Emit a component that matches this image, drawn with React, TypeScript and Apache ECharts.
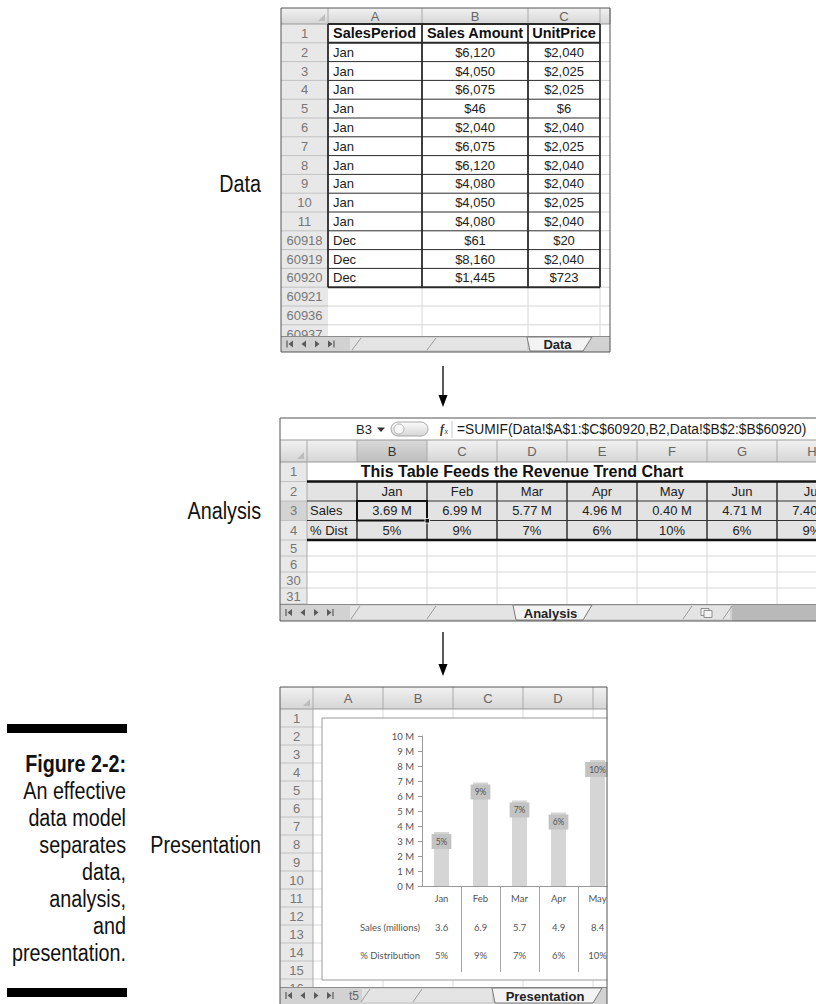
import React, { useEffect, useRef } from 'react';
import * as echarts from 'echarts';

// ---------------- Data sheet ----------------
const dataColumns = ['A', 'B', 'C'];
const dataHeaders = ['SalesPeriod', 'Sales Amount', 'UnitPrice'];
const dataRowNumbers = ['2', '3', '4', '5', '6', '7', '8', '9', '10', '11', '60918', '60919', '60920'];
const dataPeriods = ['Jan', 'Jan', 'Jan', 'Jan', 'Jan', 'Jan', 'Jan', 'Jan', 'Jan', 'Jan', 'Dec', 'Dec', 'Dec'];
const dataAmounts = ['$6,120', '$4,050', '$6,075', '$46', '$2,040', '$6,075', '$6,120', '$4,080', '$4,050', '$4,080', '$61', '$8,160', '$1,445'];
const dataUnitPrices = ['$2,040', '$2,025', '$2,025', '$6', '$2,040', '$2,025', '$2,040', '$2,040', '$2,025', '$2,040', '$20', '$2,040', '$723'];
const dataEmptyRowNumbers = ['60921', '60936', '60937'];

// ---------------- Analysis sheet ----------------
const analysisColumns = ['B', 'C', 'D', 'E', 'F', 'G', 'H'];
const analysisMonths = ['Jan', 'Feb', 'Mar', 'Apr', 'May', 'Jun', 'Jul'];
const analysisSales = ['3.69 M', '6.99 M', '5.77 M', '4.96 M', '0.40 M', '4.71 M', '7.40 M'];
const analysisDist = ['5%', '9%', '7%', '6%', '10%', '6%', '9%'];
const analysisRowNumbers = ['1', '2', '3', '4', '5', '6', '30', '31'];
const analysisTitle = 'This Table Feeds the Revenue Trend Chart';
const analysisFormula = '=SUMIF(Data!$A$1:$C$60920,B2,Data!$B$2:$B$60920)';

// ---------------- Presentation chart ----------------
const presColumns = ['A', 'B', 'C', 'D'];
const presRowNumbers = ['1', '2', '3', '4', '5', '6', '7', '8', '9', '10', '11', '12', '13', '14', '15', '16'];
const presMonths = ['Jan', 'Feb', 'Mar', 'Apr', 'May'];
const presSales = [3.6, 6.9, 5.7, 4.9, 8.4];
const presDist = [5, 9, 7, 6, 10];
const presRowLabels = ['Sales (millions)', '% Distribution'];

// ---------------- Caption ----------------
const captionLines = ['Figure 2-2:', 'An effective', 'data model', 'separates', 'data,', 'analysis,', 'and', 'presentation.'];
const stageLabels = ['Data', 'Analysis', 'Presentation'];

const SS = '"Liberation Sans", Arial, sans-serif';
const LATO = 'Lato, "Noto Sans", sans-serif';
const F = (size: number, weight = '') => `${weight ? weight + ' ' : ''}${size}px ${SS}`;

function buildOption() {
  const els: any[] = [];
  const rect = (x: number, y: number, w: number, h: number, style: any, z = 1, r?: number) =>
    els.push({ type: 'rect', shape: { x, y, width: w, height: h, r: r || 0 }, style, z, silent: true });
  const line = (x1: number, y1: number, x2: number, y2: number, stroke: string, lw = 1, z = 3) =>
    els.push({ type: 'line', shape: { x1, y1, x2, y2 }, style: { stroke, lineWidth: lw }, z, silent: true });
  const text = (t: string, x: number, y: number, font: string, fill = '#222', align = 'left', z = 4, scaleX = 1) =>
    els.push({ type: 'text', x, y, scaleX, style: { text: t, font, fill, textAlign: align, textVerticalAlign: 'middle' }, z, silent: true });
  const poly = (points: number[][], style: any, z = 3) =>
    els.push({ type: 'polygon', shape: { points }, style, z, silent: true });
  const headGrad = (a = '#f2f2f2', b = '#d5d5d5') =>
    new echarts.graphic.LinearGradient(0, 0, 0, 1, [{ offset: 0, color: a }, { offset: 1, color: b }]);

  function tabBar(x0: number, x1: number, y0: number, y1: number, o: any) {
    const yc = (y0 + y1) / 2;
    rect(x0, y0, x1 - x0, y1 - y0, { fill: '#d2d2d2' }, 20);
    line(x0, y0 + 0.5, x1, y0 + 0.5, '#8c8c8c', 1, 21);
    const ix = x0 + 6;
    const nav = { fill: '#5a5a5a' };
    line(ix, yc - 3.5, ix, yc + 3.5, '#5a5a5a', 1.2, 22);
    poly([[ix + 6, yc - 3.5], [ix + 6, yc + 3.5], [ix + 1.5, yc]], nav, 22);
    poly([[ix + 19, yc - 3.5], [ix + 19, yc + 3.5], [ix + 14.5, yc]], nav, 22);
    poly([[ix + 28, yc - 3.5], [ix + 28, yc + 3.5], [ix + 32.5, yc]], nav, 22);
    poly([[ix + 41, yc - 3.5], [ix + 41, yc + 3.5], [ix + 45.5, yc]], nav, 22);
    line(ix + 47, yc - 3.5, ix + 47, yc + 3.5, '#5a5a5a', 1.2, 22);
    rect(o.bandX0, y0 + 2, o.bandX1 - o.bandX0, y1 - y0 - 4, { fill: '#e4e4e4' }, 21);
    o.seps.forEach((s: number) => line(s - 5, y1 - 2, s + 4, y0 + 2, '#9a9a9a', 1, 22));
    if (o.darkFrom) rect(o.darkFrom, y0 + 1, x1 - o.darkFrom, y1 - y0 - 1, { fill: '#b9b9b9' }, 21);
    if (o.icon) {
      rect(o.icon, yc - 4, 8, 7, { fill: '#f4f4f4', stroke: '#777', lineWidth: 0.8 }, 22);
      rect(o.icon + 3, yc - 2, 8, 7, { fill: '#f4f4f4', stroke: '#777', lineWidth: 0.8 }, 22);
    }
    poly([[o.ax0, y0 + 1], [o.ax1 + 4, y0 + 1], [o.ax1 - 5, y1 - 1], [o.ax0 + 3, y1 - 1]],
      { fill: '#f3f3f3', stroke: '#7a7a7a', lineWidth: 1 }, 23);
    text(o.active, (o.ax0 + o.ax1) / 2, yc + 0.5, F(13, 'bold'), '#222', 'center', 24);
    if (o.prefix) text(o.prefix, o.prefixX, yc, F(12), '#666', 'left', 22);
  }

  // ================= DATA SHEET =================
  const D = { x0: 281, x1: 610, top: 8, hb: 24, rowH: 18.8, cols: [328, 422, 528, 600], tabTop: 336, bottom: 352 };
  rect(D.x0, D.top, D.x1 - D.x0, D.bottom - D.top, { fill: '#fff' }, 1);
  rect(D.x0, D.top, D.x1 - D.x0, D.hb - D.top, { fill: headGrad() }, 2);
  rect(D.x0, D.hb, D.cols[0] - D.x0, D.tabTop - D.hb, { fill: '#e8e8e8' }, 2);
  poly([[D.cols[0] - 3, D.hb - 3], [D.cols[0] - 3, D.hb - 10], [D.cols[0] - 10, D.hb - 3]], { fill: '#bdbdbd' }, 3);
  dataColumns.forEach((c, i) => text(c, (D.cols[i] + D.cols[i + 1]) / 2, (D.top + D.hb) / 2 + 0.5, F(13), '#666', 'center'));
  [...D.cols, D.x1].forEach((x) => line(x, D.top, x, D.hb, '#aaa', 1, 3));
  line(D.x0, D.hb, D.x1, D.hb, '#999', 1, 3);
  const dataRowLabels = ['1', ...dataRowNumbers, ...dataEmptyRowNumbers];
  dataRowLabels.forEach((lab, i) => {
    const y = D.hb + i * D.rowH;
    text(lab, (D.x0 + D.cols[0]) / 2, y + D.rowH / 2, F(13), '#777', 'center', 4);
    line(D.x0, y + D.rowH, D.cols[0], y + D.rowH, '#c2c2c2', 1, 3);
    line(i <= 13 ? D.cols[3] : D.cols[0], y + D.rowH, D.x1, y + D.rowH, '#d6d6d6', 1, 2);
  });
  const blockBottom = D.hb + 14 * D.rowH;
  [D.cols[1], D.cols[2], D.cols[3]].forEach((x) => line(x, blockBottom, x, D.tabTop, '#d6d6d6', 1, 2));
  for (let i = 0; i <= 14; i++) {
    const y = D.hb + i * D.rowH;
    line(D.cols[0], y, D.cols[3], y, '#2a2a2a', i === 0 || i === 1 || i === 14 ? 2 : 1, 3);
  }
  D.cols.forEach((x) => line(x, D.hb, x, blockBottom, '#2a2a2a', 1.8, 3));
  const dCx = [D.cols[0] + 5, (D.cols[1] + D.cols[2]) / 2, (D.cols[2] + D.cols[3]) / 2];
  text(dataHeaders[0], dCx[0], D.hb + D.rowH / 2, F(14.5, 'bold'), '#111', 'left');
  text(dataHeaders[1], dCx[1], D.hb + D.rowH / 2, F(14.5, 'bold'), '#111', 'center');
  text(dataHeaders[2], dCx[2], D.hb + D.rowH / 2, F(14.5, 'bold'), '#111', 'center');
  dataPeriods.forEach((p, j) => {
    const yc = D.hb + (j + 1) * D.rowH + D.rowH / 2;
    text(p, dCx[0], yc, F(13), '#222', 'left');
    text(dataAmounts[j], dCx[1], yc, F(13), '#222', 'center');
    text(dataUnitPrices[j], dCx[2], yc, F(13), '#222', 'center');
  });
  tabBar(D.x0, D.x1, D.tabTop, D.bottom, { active: 'Data', ax0: 527, ax1: 588, bandX0: 350, bandX1: 527, seps: [357, 432] });
  rect(D.x0, D.top, D.x1 - D.x0, D.bottom - D.top, { fill: 'none', stroke: '#555', lineWidth: 1 }, 30);

  // ================= ANALYSIS SHEET =================
  const A = { x0: 280, x1: 816, top: 418, fb: 440, hb: 462, rn: 307, colA: 357, colW: 70,
    rows: [462, 481.5, 501, 520.5, 540, 556, 572, 588, 604], tabTop: 604, bottom: 621 };
  rect(A.x0, A.top, A.x1 - A.x0, A.bottom - A.top, { fill: '#fff' }, 1);
  line(A.x0, A.fb, A.x1, A.fb, '#999', 1, 3);
  text('B3', 356, 429.5, F(13), '#222', 'left');
  poly([[377, 427.5], [385, 427.5], [381, 432]], { fill: '#333' }, 4);
  rect(391, 422, 37, 14, { fill: headGrad('#fbfbfb', '#d6d6d6'), stroke: '#a8a8a8', lineWidth: 1 }, 3, 7);
  els.push({ type: 'circle', shape: { cx: 399, cy: 429, r: 5 }, style: { fill: '#f7f7f7', stroke: '#b5b5b5', lineWidth: 1 }, z: 4, silent: true });
  text('f', 440, 429, 'italic bold 12px "Liberation Serif", serif', '#333', 'left');
  text('x', 444.5, 431.5, 'italic 8px "Liberation Serif", serif', '#333', 'left');
  line(452, 421, 452, 438, '#c8c8c8', 1, 3);
  text(analysisFormula, 457, 429.5, F(13.8), '#1a1a1a', 'left');
  rect(A.x0, A.fb, A.x1 - A.x0, A.hb - A.fb, { fill: headGrad() }, 2);
  rect(A.colA, A.fb, A.colW, A.hb - A.fb, { fill: headGrad('#dadada', '#bdbdbd') }, 2);
  poly([[A.rn - 3, A.hb - 3], [A.rn - 3, A.hb - 10], [A.rn - 10, A.hb - 3]], { fill: '#bdbdbd' }, 3);
  line(A.rn, A.fb, A.rn, A.hb, '#aaa', 1, 3);
  analysisColumns.forEach((c, k) => {
    const x = A.colA + k * A.colW;
    line(x, A.fb, x, A.hb, '#aaa', 1, 3);
    text(c, x + A.colW / 2, (A.fb + A.hb) / 2 + 0.5, F(13), k === 0 ? '#333' : '#666', 'center');
  });
  line(A.x0, A.hb, A.x1, A.hb, '#999', 1, 3);
  rect(A.x0, A.hb, A.rn - A.x0, A.tabTop - A.hb, { fill: '#e8e8e8' }, 2);
  rect(A.x0, A.rows[2], A.rn - A.x0, A.rows[3] - A.rows[2], { fill: '#d3d3d3' }, 2);
  analysisRowNumbers.forEach((lab, i) => {
    text(lab, (A.x0 + A.rn) / 2, (A.rows[i] + A.rows[i + 1]) / 2, F(13), '#777', 'center', 4);
    line(A.x0, A.rows[i + 1], A.rn, A.rows[i + 1], '#c2c2c2', 1, 3);
  });
  line(A.rn, A.hb, A.rn, A.tabTop, '#aaa', 1, 3);
  text(analysisTitle, 522, (A.rows[0] + A.rows[1]) / 2, F(16, 'bold'), '#111', 'center');
  rect(A.rn, A.rows[1], A.x1 - A.rn, A.rows[4] - A.rows[1], { fill: '#e3e3e3' }, 2);
  [5, 6, 7].forEach((i) => line(A.rn, A.rows[i], A.x1, A.rows[i], '#d6d6d6', 1, 2));
  analysisColumns.forEach((_, k) => {
    const x = A.colA + k * A.colW;
    line(x, A.rows[4], x, A.tabTop, '#d6d6d6', 1, 2);
    line(x, A.rows[1], x, A.rows[4], '#333', 1.5, 3);
  });
  line(A.rn, A.rows[2], A.x1, A.rows[2], '#333', 1, 3);
  line(A.rn, A.rows[3], A.x1, A.rows[3], '#333', 1, 3);
  line(A.rn, A.rows[1], A.x1, A.rows[1], '#111', 2.5, 3);
  line(A.rn, A.rows[4], A.x1, A.rows[4], '#111', 2.5, 3);
  const rc = (i: number) => (A.rows[i] + A.rows[i + 1]) / 2;
  text('Sales', A.rn + 3, rc(2), F(13), '#222', 'left');
  text('% Dist', A.rn + 3, rc(3), F(13), '#222', 'left');
  analysisMonths.forEach((m, k) => {
    const cx = A.colA + k * A.colW + A.colW / 2;
    text(m, cx, rc(1), F(13), '#222', 'center');
    text(analysisSales[k], cx, rc(2), F(13), '#222', 'center');
    text(analysisDist[k], cx, rc(3), F(13), '#222', 'center');
  });
  rect(A.colA, A.rows[2], A.colW, A.rows[3] - A.rows[2], { fill: 'none', stroke: '#111', lineWidth: 2 }, 6);
  rect(A.colA + A.colW - 2, A.rows[3] - 2, 4.5, 4.5, { fill: '#111', stroke: '#fff', lineWidth: 0.8 }, 7);
  tabBar(A.x0, A.x1, A.tabTop, A.bottom, { active: 'Analysis', ax0: 513, ax1: 588, bandX0: 350, bandX1: 730,
    seps: [356, 432, 688, 728], icon: 701, darkFrom: 732 });
  rect(A.x0, A.top, A.x1 - A.x0 + 2, A.bottom - A.top, { fill: 'none', stroke: '#555', lineWidth: 1 }, 30);

  // ================= PRESENTATION SHEET =================
  const P = { x0: 280, x1: 607, top: 687, hb: 709, rn: 313, cols: [313, 383, 453, 523, 593], rowH: 18, tabTop: 987, bottom: 1004 };
  rect(P.x0, P.top, P.x1 - P.x0, P.bottom - P.top, { fill: '#fff' }, 1);
  rect(P.x0, P.top, P.x1 - P.x0, P.hb - P.top, { fill: headGrad() }, 2);
  poly([[P.rn - 3, P.hb - 3], [P.rn - 3, P.hb - 10], [P.rn - 10, P.hb - 3]], { fill: '#bdbdbd' }, 3);
  P.cols.forEach((x) => line(x, P.top, x, P.hb, '#aaa', 1, 3));
  presColumns.forEach((c, i) => text(c, (P.cols[i] + P.cols[i + 1]) / 2, (P.top + P.hb) / 2 + 0.5, F(13), '#666', 'center'));
  line(P.x0, P.hb, P.x1, P.hb, '#999', 1, 3);
  rect(P.x0, P.hb, P.rn - P.x0, P.tabTop - P.hb, { fill: '#e8e8e8' }, 2);
  presRowNumbers.forEach((lab, i) => {
    const y = P.hb + i * P.rowH;
    text(lab, (P.x0 + P.rn) / 2, y + P.rowH / 2, F(13), '#777', 'center', 4);
    line(P.x0, y + P.rowH, P.rn, y + P.rowH, '#c2c2c2', 1, 3);
    line(P.rn, y + P.rowH, P.x1, y + P.rowH, '#dadada', 1, 2);
  });
  P.cols.slice(1).forEach((x) => line(x, P.hb, x, P.tabTop, '#dadada', 1, 2));
  line(P.rn, P.hb, P.rn, P.tabTop, '#aaa', 1, 3);
  rect(322, 718, 420, 262, { fill: '#fff', stroke: '#9a9a9a', lineWidth: 1 }, 5);
  text(presRowLabels[0], 420, 927, `9.5px ${LATO}`, '#555', 'right', 12);
  text(presRowLabels[1], 420, 955, `9.5px ${LATO}`, '#555', 'right', 12);
  rect(P.x1 + 0.5, 680, 816 - P.x1, 330, { fill: '#fff' }, 50);
  tabBar(P.x0, P.x1, P.tabTop, P.bottom, { active: 'Presentation', ax0: 492, ax1: 598, bandX0: 362, bandX1: 492,
    seps: [366, 418], prefix: 't5', prefixX: 349 });
  rect(P.x0, P.top, P.x1 - P.x0, P.bottom - P.top + 2, { fill: 'none', stroke: '#555', lineWidth: 1 }, 55);

  // ================= ARROWS =================
  [[366, 407], [632, 676]].forEach(([y0, y1]) => {
    line(443, y0, 443, y1 - 10, '#000', 1.3, 5);
    poly([[438.5, y1 - 12], [447.5, y1 - 12], [443, y1]], { fill: '#000' }, 5);
  });

  // ================= LABELS & CAPTION =================
  const labelY = [184, 511, 845];
  const CAP = 0.84;
  stageLabels.forEach((s, i) => text(s, 261, labelY[i], `23.5px ${SS}`, '#111', 'right', 5, CAP));
  rect(7, 724, 120, 9, { fill: '#000' }, 5);
  captionLines.forEach((c, i) =>
    text(c, 126, 764 + 27 * i, `${i === 0 ? 'bold ' : ''}23.5px ${SS}`, '#111', 'right', 5, CAP));
  rect(7, 988, 120, 9, { fill: '#000' }, 5);

  return {
    animation: false,
    textStyle: { fontFamily: LATO },
    grid: { left: 422, top: 736, width: 195, height: 150, containLabel: false },
    xAxis: {
      type: 'category',
      data: presMonths,
      z: 10,
      boundaryGap: true,
      axisLine: { lineStyle: { color: '#999', width: 1 } },
      axisTick: { show: true, length: 86, interval: (i: number) => i > 0, lineStyle: { color: '#a5a5a5' } },
      axisLabel: {
        interval: 0,
        margin: 2,
        formatter: (v: string, i: number) => `{m|${v}}\n{s|${presSales[i]}}\n{d|${presDist[i]}%}`,
        rich: {
          m: { lineHeight: 20, fontSize: 9.5, fontFamily: LATO, color: '#555' },
          s: { lineHeight: 38, fontSize: 9.5, fontFamily: LATO, color: '#555' },
          d: { lineHeight: 18, fontSize: 9.5, fontFamily: LATO, color: '#555' },
        },
      },
    },
    yAxis: {
      type: 'value',
      min: 0,
      max: 10,
      interval: 1,
      z: 10,
      axisLine: { show: true, lineStyle: { color: '#999' } },
      axisTick: { show: true, length: 4, lineStyle: { color: '#999' } },
      splitLine: { show: false },
      axisLabel: { formatter: '{value} M', margin: 8, color: '#555', fontFamily: LATO, fontSize: 9.5 },
    },
    series: [
      {
        type: 'bar',
        data: presSales,
        barWidth: 15,
        z: 10,
        itemStyle: { color: '#d5d5d5' },
        label: {
          show: true,
          position: 'insideTop',
          distance: 2,
          formatter: (p: any) => `${presDist[p.dataIndex]}%`,
          backgroundColor: '#c3c3c3',
          padding: [3, 4],
          color: '#555',
          fontSize: 8.5,
          fontFamily: LATO,
        },
      },
    ],
    graphic: { elements: els },
  };
}

export default function App() {
  const ref = useRef<HTMLDivElement>(null);
  useEffect(() => {
    const chart = echarts.init(ref.current!, undefined, { renderer: 'svg' });
    chart.setOption(buildOption() as any);
    return () => chart.dispose();
  }, []);
  return <div ref={ref} style={{ position: 'absolute', left: 0, top: 0, width: 816, height: 1004, background: '#fff' }} />;
}
